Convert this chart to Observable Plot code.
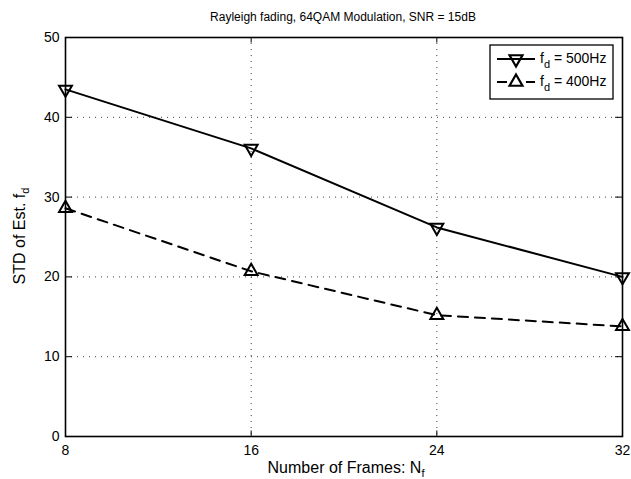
<!DOCTYPE html>
<html>
<head>
<meta charset="utf-8">
<script src="https://cdn.jsdelivr.net/npm/d3@7"></script>
<script src="https://cdn.jsdelivr.net/npm/@observablehq/plot@0.6"></script>
<style>
  html, body { margin: 0; padding: 0; background: #fff; }
  svg { font-family: "Liberation Sans", Arial, sans-serif; }
</style>
</head>
<body>
<div id="chart"></div>
<script>
const frames = [8, 16, 24, 32];
const std500 = [43.5, 36.1, 26.2, 20.0];
const std400 = [28.6, 20.7, 15.2, 13.8];
const xTicks = [8, 16, 24, 32];
const yTicks = [0, 10, 20, 30, 40, 50];
const titleText = "Rayleigh fading, 64QAM Modulation, SNR = 15dB";
const legendLabels = ["500Hz", "400Hz"];

const d500 = frames.map((f, i) => ({x: f, y: std500[i]}));
const d400 = frames.map((f, i) => ({x: f, y: std400[i]}));

const gridStyle = {stroke: "#000", strokeOpacity: 0.75, strokeWidth: 1, strokeDasharray: "1,5"};

const plot = Plot.plot({
  width: 631,
  height: 479,
  marginLeft: 65,
  marginRight: 9,
  marginTop: 37,
  marginBottom: 43,
  style: {fontFamily: "Liberation Sans, Arial, sans-serif", color: "#000", background: "#fff"},
  x: {domain: [8, 32], ticks: xTicks},
  y: {domain: [0, 50], ticks: yTicks},
  marks: [
    Plot.gridX(xTicks.slice(1, -1), gridStyle),
    Plot.gridY(yTicks.slice(1, -1), gridStyle),
    // inner ticks (MATLAB style)
    Plot.ruleX(xTicks.slice(1, -1), {y1: 0, y2: 0.7, stroke: "#000"}),
    Plot.ruleX(xTicks.slice(1, -1), {y1: 49.3, y2: 50, stroke: "#000"}),
    Plot.ruleY(yTicks.slice(1, -1), {x1: 8, x2: 8.3, stroke: "#000"}),
    Plot.ruleY(yTicks.slice(1, -1), {x1: 31.7, x2: 32, stroke: "#000"}),
    Plot.line(d500, {x: "x", y: "y", stroke: "#000", strokeWidth: 2}),
    Plot.line(d400, {x: "x", y: "y", stroke: "#000", strokeWidth: 2, strokeDasharray: "10,7"}),
    Plot.dot(d500, {x: "x", y: "y", symbol: "triangle", rotate: 180, r: 4.8, stroke: "#000", strokeWidth: 2, fill: "none"}),
    Plot.dot(d400, {x: "x", y: "y", symbol: "triangle", r: 4.8, stroke: "#000", strokeWidth: 2, fill: "none"}),
    Plot.frame({stroke: "#000", strokeWidth: 1.6}),
    Plot.axisX({ticks: xTicks, tickSize: 0, tickPadding: 9, fontSize: 14, label: null}),
    Plot.axisY({ticks: yTicks, tickSize: 0, tickPadding: 6, fontSize: 14, label: null})
  ]
});
document.getElementById("chart").appendChild(plot);

const svg = d3.select(plot);
const font = "Liberation Sans, Arial, sans-serif";

// title
svg.append("text")
  .attr("x", 343).attr("y", 21)
  .attr("text-anchor", "middle")
  .attr("font-size", 12).attr("font-family", font).attr("fill", "#000")
  .text(titleText);

// x label
const xl = svg.append("text")
  .attr("x", 346).attr("y", 473)
  .attr("text-anchor", "middle")
  .attr("font-size", 16).attr("font-family", font).attr("fill", "#000");
xl.append("tspan").text("Number of Frames: N");
xl.append("tspan").attr("font-size", 11).attr("dy", 4).text("f");

// y label
const yl = svg.append("text")
  .attr("transform", "translate(25,236) rotate(-90)")
  .attr("text-anchor", "middle")
  .attr("font-size", 16).attr("font-family", font).attr("fill", "#000");
yl.append("tspan").text("STD of Est. f");
yl.append("tspan").attr("font-size", 11).attr("dy", 4).text("d");

// legend
const lg = svg.append("g");
lg.append("rect").attr("x", 490).attr("y", 45).attr("width", 123).attr("height", 54)
  .attr("fill", "#fff").attr("stroke", "#000").attr("stroke-width", 1.3);
const tri = d3.symbol(d3.symbolTriangle, 4.8 * 4.8 * Math.PI)();
const rows = [
  {y: 59, label: legendLabels[0], segs: [[497, 535]], rot: 180},
  {y: 82, label: legendLabels[1], segs: [[497, 507], [526, 535]], rot: 0}
];
rows.forEach(r => {
  r.segs.forEach(s => {
    lg.append("line").attr("x1", s[0]).attr("x2", s[1]).attr("y1", r.y).attr("y2", r.y)
      .attr("stroke", "#000").attr("stroke-width", 2);
  });
  lg.append("path").attr("d", tri)
    .attr("transform", `translate(516,${r.y}) rotate(${r.rot})`)
    .attr("fill", "none").attr("stroke", "#000").attr("stroke-width", 2.2);
  const t = lg.append("text").attr("x", 540).attr("y", r.y + 4)
    .attr("text-anchor", "start")
    .attr("font-size", 14).attr("font-family", font).attr("fill", "#000");
  t.append("tspan").text("f");
  t.append("tspan").attr("font-size", 11).attr("dy", 5).text("d");
  t.append("tspan").attr("dy", -5).text(" = " + r.label);
});
</script>
</body>
</html>
